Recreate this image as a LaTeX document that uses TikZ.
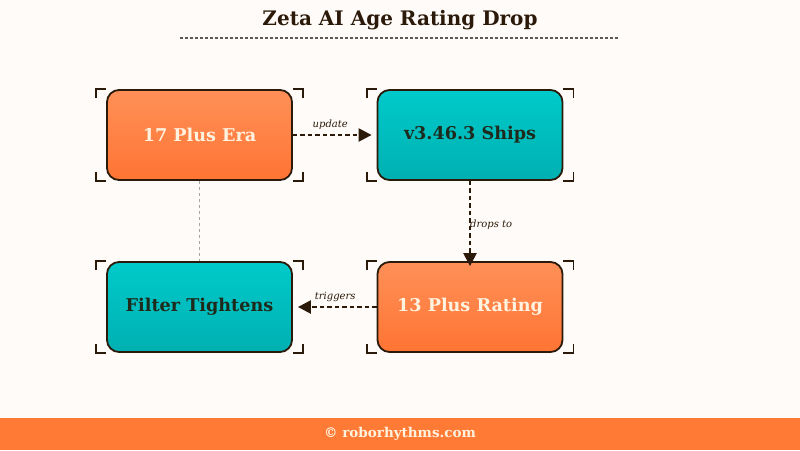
\documentclass[tikz,border=0pt]{standalone}
\usepackage{fontspec}
\setmainfont{DejaVu Serif}
\usetikzlibrary{arrows.meta,shadings}
\definecolor{bgc}{HTML}{FFFBF8}
\definecolor{ink}{HTML}{2B1A0A}
\definecolor{orTop}{HTML}{FF9058}
\definecolor{orBot}{HTML}{FF7433}
\definecolor{tlTop}{HTML}{00CACA}
\definecolor{tlBot}{HTML}{00B0B2}
\definecolor{foot}{HTML}{FF7A35}
\definecolor{cream}{HTML}{FFF3E0}
\definecolor{darktext}{HTML}{1E2A1C}
\tikzset{
  boxbase/.style={draw=ink, line width=1.8pt, rounded corners=12pt, minimum width=185pt, minimum height=90pt, inner sep=0pt, font=\bfseries\fontsize{17.6}{21}\selectfont},
  orbox/.style={boxbase, top color=orTop, bottom color=orBot, text=cream},
  tlbox/.style={boxbase, top color=tlTop, bottom color=tlBot, text=darktext},
  flow/.style={draw=ink, line width=2.4pt, dash pattern=on 4.5pt off 3pt, -{Triangle[length=13pt,width=13pt]}},
  lbl/.style={font=\itshape\fontsize{10}{12}\selectfont, text=ink, inner sep=1pt},
  brk/.style={draw=ink, line width=1.8pt},
}
\newcommand{\brackets}[1]{%
  \draw[brk] ([xshift=-10pt,yshift=-9pt]#1.north west) -- ([xshift=-10pt]#1.north west) -- ([xshift=0pt]#1.north west);
  \draw[brk] ([xshift=-10pt,yshift=9pt]#1.south west) -- ([xshift=-10pt]#1.south west) -- ([xshift=0pt]#1.south west);
  \draw[brk] ([xshift=10pt,yshift=-9pt]#1.north east) -- ([xshift=10pt]#1.north east) -- ([xshift=0pt]#1.north east);
  \draw[brk] ([xshift=10pt,yshift=9pt]#1.south east) -- ([xshift=10pt]#1.south east) -- ([xshift=0pt]#1.south east);
}
\begin{document}
\begin{tikzpicture}[x=1pt,y=-1pt]
\fill[bgc] (0,0) rectangle (800,450);
\useasboundingbox (0,0) rectangle (800,450);
% title
\node[font=\bfseries\fontsize{20}{24}\selectfont, text=ink] (title) at (400,20) {Zeta AI Age Rating Drop};
\coordinate (tl) at (180,38);
\coordinate (tr) at (618,38);
\draw[black!65, line width=1.3pt, dash pattern=on 3pt off 2pt] (tl) -- (tr);
% boxes
\node[orbox] (a) at (199.5,135) {17 Plus Era};
\node[tlbox] (b) at (470,135) {v3.46.3 Ships};
\node[tlbox] (c) at (199.5,307) {Filter Tightens};
\node[orbox] (d) at (470,307) {13 Plus Rating};
\brackets{a}
\brackets{b}
\brackets{c}
\brackets{d}
% connectors
\draw[gray!70, line width=1pt, dash pattern=on 3pt off 3pt] (a.south) -- (c.north);
\draw[flow] (a.east) -- ([xshift=-5pt]b.west) node[lbl, midway, above=3pt, xshift=-2pt] {update};
\draw[flow] (b.south) -- ([yshift=-5pt]d.north) node[lbl, pos=0.52, right=-2pt] {drops to};
\draw[flow] (d.west) -- ([xshift=5pt]c.east) node[lbl, midway, above=3pt, xshift=-2pt] {triggers};
% footer
\fill[foot] (0,418) rectangle (800,450);
\node[font=\bfseries\fontsize{13.5}{16}\selectfont, text=cream] (ft) at (400,434) {© roborhythms.com};
\end{tikzpicture}
\end{document}
